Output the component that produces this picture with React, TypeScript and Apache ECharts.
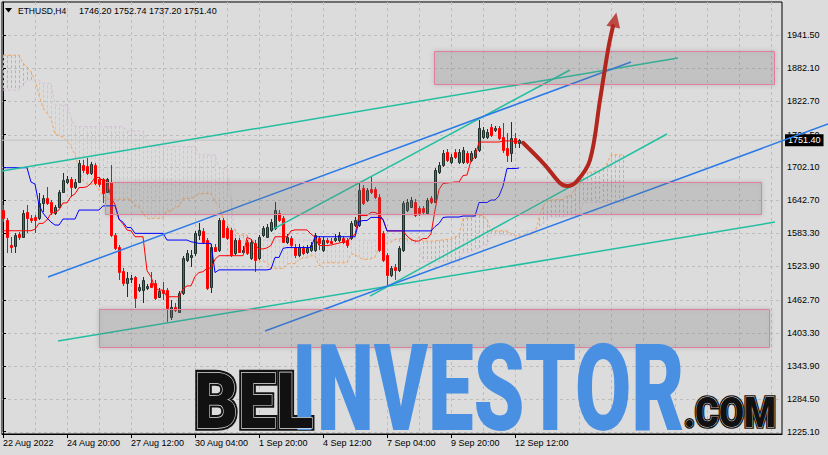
import React, { useEffect, useRef } from "react";
import * as echarts from "echarts";

// ---------- text ----------
const symbolLabel = "ETHUSD,H4";
const ohlcLabel = "1746.20 1752.74 1737.20 1751.40";
const lastPrice = 1751.4;

// ---------- axes ----------
const xTickBars = [0, 16, 32, 48, 64, 80, 96, 112, 128];
const xTickLabels = [
  "22 Aug 2022", "24 Aug 20:00", "27 Aug 12:00", "30 Aug 04:00", "1 Sep 20:00",
  "4 Sep 12:00", "7 Sep 04:00", "9 Sep 20:00", "12 Sep 12:00",
];
const gridBars = [0, 8, 16, 24, 32, 40, 48, 56, 64, 72, 80, 88, 96, 104, 112, 120, 128, 136, 144, 152, 160, 168, 176, 184, 192];
const yTickValues = [1225.1, 1284.5, 1343.9, 1403.3, 1462.7, 1523.9, 1583.3, 1642.7, 1702.1, 1761.5, 1822.7, 1882.1, 1941.5];

// ---------- H4 candles (bar 0 = 22 Aug 04:00) ----------
const opens = [
  1625.2, 1607.2, 1562.0, 1560.2, 1581.3, 1577.0, 1622.2, 1611.3, 1613.1, 1610.2,
  1637.3, 1646.4, 1640.2, 1620.4, 1631.2, 1658.3, 1676.4, 1680.7, 1667.3, 1676.4,
  1706.5, 1704.7, 1691.5, 1706.5, 1680.7, 1680.7, 1658.3, 1676.4, 1580.1, 1558.9,
  1515.0, 1492.8, 1500.0, 1504.7, 1480.7, 1480.7, 1483.7, 1493.9, 1493.9, 1468.6,
  1480.7, 1480.7, 1432.4, 1450.5, 1441.5, 1474.7, 1534.9, 1540.9, 1547.0, 1580.1,
  1587.8, 1571.0, 1486.6, 1558.9, 1553.0, 1607.2, 1592.2, 1589.1, 1547.0, 1571.0,
  1549.9, 1568.0, 1538.0, 1565.1, 1538.0, 1580.1, 1577.0, 1589.1, 1592.2, 1619.3,
  1610.2, 1568.0, 1574.1, 1558.9, 1543.9, 1556.0, 1549.9, 1553.0, 1553.0, 1574.1,
  1553.0, 1571.0, 1569.5, 1571.0, 1571.0, 1574.1, 1571.0, 1574.1, 1598.1, 1598.1,
  1664.4, 1643.3, 1662.6, 1662.6, 1649.3, 1583.1, 1543.9, 1507.8, 1522.8, 1516.8,
  1553.0, 1625.2, 1631.2, 1640.2, 1628.3, 1628.3, 1619.3, 1646.4, 1640.2, 1694.4,
  1706.5, 1730.6, 1712.5, 1730.6, 1712.5, 1712.5, 1727.7, 1715.6, 1721.5, 1733.7,
  1757.7, 1757.7, 1775.8, 1769.8, 1772.9, 1757.7, 1736.7, 1727.7, 1754.8, 1746.2,
];
const highs = [
  1634.3, 1610.8, 1577.0, 1583.7, 1586.0, 1625.2, 1634.3, 1616.2, 1616.2, 1655.4,
  1652.3, 1667.3, 1643.3, 1634.3, 1661.4, 1692.6, 1686.7, 1685.4, 1680.7, 1715.6,
  1715.6, 1718.6, 1712.5, 1709.6, 1684.3, 1682.5, 1683.1, 1706.5, 1583.7, 1562.0,
  1520.4, 1513.7, 1507.8, 1506.0, 1491.5, 1504.7, 1491.5, 1513.7, 1498.7, 1484.3,
  1495.7, 1484.3, 1462.6, 1457.2, 1478.9, 1542.1, 1553.0, 1553.0, 1587.3, 1601.2,
  1592.7, 1574.6, 1563.8, 1563.8, 1610.8, 1610.8, 1596.3, 1592.7, 1574.6, 1574.6,
  1560.2, 1571.0, 1572.8, 1571.0, 1580.1, 1596.3, 1599.9, 1609.0, 1640.2, 1625.2,
  1614.4, 1581.9, 1578.2, 1563.8, 1563.8, 1560.2, 1562.0, 1567.4, 1583.7, 1578.2,
  1576.4, 1574.6, 1574.6, 1581.9, 1585.5, 1578.2, 1574.6, 1605.3, 1612.6, 1674.0,
  1670.4, 1665.0, 1685.4, 1666.8, 1654.1, 1587.3, 1547.5, 1524.0, 1527.7, 1560.2,
  1641.5, 1645.1, 1648.7, 1645.1, 1632.5, 1632.5, 1646.9, 1650.5, 1701.1, 1712.0,
  1733.7, 1735.5, 1726.4, 1735.5, 1735.5, 1739.1, 1731.8, 1731.8, 1737.3, 1787.9,
  1775.2, 1771.6, 1780.6, 1777.0, 1777.0, 1781.9, 1763.8, 1784.8, 1763.8, 1752.74,
];
const lows = [
  1603.5, 1547.5, 1547.0, 1547.5, 1571.0, 1574.6, 1583.7, 1601.7, 1583.7, 1607.2,
  1622.2, 1634.3, 1616.2, 1616.2, 1628.8, 1655.4, 1672.2, 1649.3, 1662.6, 1673.5,
  1691.5, 1688.5, 1688.5, 1670.4, 1667.3, 1637.9, 1656.0, 1577.0, 1553.0, 1498.7,
  1487.9, 1468.6, 1492.8, 1447.6, 1477.1, 1456.6, 1480.7, 1483.7, 1462.6, 1466.2,
  1462.6, 1423.4, 1426.5, 1440.9, 1439.1, 1471.6, 1531.3, 1522.8, 1542.1, 1571.0,
  1563.8, 1480.7, 1474.7, 1549.3, 1549.3, 1574.6, 1571.0, 1540.3, 1543.9, 1547.5,
  1545.7, 1543.9, 1534.9, 1513.7, 1534.9, 1576.4, 1574.6, 1585.5, 1589.1, 1603.5,
  1565.6, 1563.8, 1558.4, 1538.5, 1540.3, 1543.9, 1545.7, 1549.3, 1549.3, 1553.0,
  1549.3, 1563.8, 1563.8, 1567.4, 1567.4, 1563.8, 1556.6, 1571.0, 1594.5, 1594.5,
  1634.3, 1639.7, 1654.1, 1645.1, 1549.3, 1531.3, 1489.7, 1504.2, 1498.7, 1513.2,
  1549.3, 1621.6, 1628.8, 1612.6, 1614.4, 1618.0, 1616.2, 1636.1, 1637.9, 1690.3,
  1702.9, 1712.0, 1708.3, 1717.4, 1708.3, 1708.3, 1708.3, 1712.0, 1717.4, 1730.0,
  1753.5, 1753.5, 1757.1, 1766.2, 1751.7, 1727.7, 1712.5, 1712.5, 1737.3, 1737.2,
];
const closes = [
  1610.8, 1577.0, 1558.9, 1580.1, 1577.0, 1619.3, 1610.2, 1607.2, 1607.2, 1637.3,
  1646.4, 1637.3, 1622.2, 1631.2, 1658.3, 1679.4, 1680.7, 1667.3, 1676.4, 1709.6,
  1697.5, 1692.6, 1708.3, 1673.5, 1672.2, 1656.0, 1680.7, 1580.1, 1556.0, 1513.7,
  1492.8, 1501.8, 1502.9, 1465.7, 1486.6, 1498.7, 1487.9, 1486.6, 1465.7, 1479.4,
  1474.7, 1447.6, 1450.5, 1444.5, 1474.7, 1538.0, 1547.0, 1543.9, 1583.1, 1589.1,
  1568.0, 1483.7, 1558.9, 1551.7, 1607.2, 1577.0, 1574.1, 1543.9, 1571.0, 1549.9,
  1553.0, 1547.0, 1568.0, 1534.9, 1577.0, 1592.2, 1595.0, 1604.1, 1625.2, 1607.2,
  1568.0, 1577.0, 1562.0, 1543.9, 1558.9, 1547.0, 1556.0, 1562.0, 1580.1, 1565.1,
  1571.0, 1568.0, 1566.0, 1575.2, 1580.1, 1568.0, 1562.0, 1601.2, 1607.2, 1661.4,
  1637.3, 1661.4, 1658.3, 1649.3, 1553.0, 1534.9, 1507.8, 1519.9, 1516.8, 1556.0,
  1637.3, 1640.2, 1643.3, 1616.2, 1619.3, 1622.2, 1643.3, 1640.2, 1697.5, 1706.5,
  1727.7, 1715.6, 1721.5, 1721.5, 1730.6, 1733.7, 1712.5, 1727.7, 1733.7, 1772.9,
  1769.8, 1766.7, 1760.8, 1772.9, 1754.8, 1733.7, 1724.6, 1754.8, 1745.8, 1751.4,
];

const tenkanSeed = [1587.8, 1587.8, 1587.8, 1587.8, 1587.8, 1587.8, 1587.8, 1587.8];
const kijunSeed = [
  1701.7, 1701.7, 1701.7, 1701.7, 1701.7, 1701.7, 1701.7, 1675.8, 1672.2, 1634.3,
  1619.8, 1610.8, 1603.5, 1598.1, 1598.1, 1609.0, 1609.0, 1609.0, 1609.0, 1625.2,
  1625.2, 1625.2, 1625.2, 1625.2, 1625.2,
];
const spanASeed = [
  1905, 1905, 1905, 1905, 1905, 1891, 1884, 1875, 1860, 1833, 1810, 1800, 1790,
  1762, 1760, 1757, 1750, 1740, 1725, 1700, 1678, 1672, 1672, 1672, 1661, 1650,
];
const spanBSeed = [
  1842, 1842, 1842, 1842, 1842, 1850, 1860, 1860, 1860, 1860, 1854, 1854, 1854,
  1815, 1815, 1815, 1815, 1793, 1776, 1776, 1776, 1776, 1776, 1776, 1776, 1776,
  1776, 1776, 1776, 1776, 1776, 1768, 1768, 1768, 1768, 1768, 1750, 1740, 1740,
  1740, 1740, 1740, 1740, 1740, 1740, 1740, 1740, 1740, 1740, 1725, 1725, 1725,
  1725, 1725, 1700, 1700, 1700, 1650, 1571, 1571, 1571, 1571, 1571, 1571, 1571,
  1571, 1571, 1571, 1571, 1571, 1571, 1571, 1571, 1571, 1571, 1571, 1571,
];

// ---------- drawn objects: [bar1, price1, bar2, price2] ----------
const tealLines = [
  [-0.25, 1695.7, 168.75, 1899.9],
  [67.5, 1590.9, 141.75, 1878.2],
  [91.75, 1469.8, 166, 1762.6],
  [13.75, 1388.5, 193, 1603.5],
];
const blueLines = [
  [11.25, 1504.2, 157, 1892.7],
  [65.5, 1406.6, 206.25, 1780.6],
];
const zoneBoxes = [
  [107.75, 1912.5, 192.75, 1852.9],
  [25.5, 1675.8, 189.5, 1618.0],
  [24, 1446.3, 191.5, 1377.7],
];
const arrowPath = [
  [130.0, 1746.8], [135.5, 1706.5], [139.25, 1674.0], [141.0, 1668.6], [143.5, 1677.6],
  [146.75, 1715.6], [149.25, 1824.0], [151.25, 1914.4], [152.5, 1957.7],
];
const arrowHead = [152.95, 1969];

const FONT = "'Liberation Sans', Arial, Helvetica, sans-serif";
const BG = "#dcdcdc";
const GRID_COLOR = "#bdbdbd";
const SPAN_A_COLOR = "#f4a460";
const SPAN_B_COLOR = "#d8bfd8";
const TEAL = "#22bfa0";
const BLUE = "#2a7ae8";
const ARROW = "#b3261e";

function midRange(from: number, to: number) {
  let hi = -Infinity;
  let lo = Infinity;
  for (let i = from; i <= to; i++) {
    if (highs[i] > hi) hi = highs[i];
    if (lows[i] < lo) lo = lows[i];
  }
  return (hi + lo) / 2;
}

const wmText = (text: string, x: number, y: number, size: number, sx: number, sy: number, style: any, z: number) => ({
  type: "text",
  z,
  silent: true,
  x,
  y,
  scaleX: sx,
  scaleY: sy,
  style: {
    text,
    fontFamily: "Roboto",
    fontWeight: 900,
    fontSize: size,
    align: "left",
    verticalAlign: "middle",
    textAlign: "left",
    textVerticalAlign: "middle",
    ...style,
  },
});

export default function App() {
  const ref = useRef<HTMLDivElement>(null);

  useEffect(() => {
    const el = ref.current;
    if (!el) return;
    const chart = echarts.init(el, null, { renderer: "svg" });

    const n = opens.length;
    const tenkan: number[] = [];
    const kijun: number[] = [];
    for (let k = 0; k < n; k++) {
      tenkan.push(k < tenkanSeed.length ? tenkanSeed[k] : midRange(k - 8, k));
      kijun.push(k < kijunSeed.length ? kijunSeed[k] : midRange(k - 25, k));
    }
    const spanA: number[] = [];
    const spanB: number[] = [];
    for (let k = 0; k < n + 26; k++) {
      spanA.push(k < spanASeed.length ? spanASeed[k] : (tenkan[k - 26] + kijun[k - 26]) / 2);
      spanB.push(k < spanBSeed.length ? spanBSeed[k] : midRange(k - 77, k - 26));
    }

    const candleData = opens.map((o, i) => [i, o, closes[i], lows[i], highs[i]]);
    const cloudData = spanA.map((a, k) => [k, a, spanB[k]]);

    const lineSeg = (color: string, width: number) => (params: any, api: any) => {
      const p1 = api.coord([api.value(0), api.value(1)]);
      const p2 = api.coord([api.value(2), api.value(3)]);
      return {
        type: "line",
        shape: { x1: p1[0], y1: p1[1], x2: p2[0], y2: p2[1] },
        style: { stroke: color, lineWidth: width },
      };
    };

    const option: any = {
      animation: false,
      backgroundColor: BG,
      grid: {
        left: 2, right: 46, top: 2, bottom: 21,
        show: true, borderColor: "#000", borderWidth: 1, backgroundColor: "transparent",
      },
      xAxis: {
        type: "value",
        min: -0.25,
        max: 194.75,
        axisLine: { show: true, onZero: false, lineStyle: { color: "#000", width: 1 } },
        axisTick: { show: true, length: 4, customValues: xTickBars, lineStyle: { color: "#000" } },
        axisLabel: {
          customValues: xTickBars,
          formatter: (v: number) => {
            const i = xTickBars.indexOf(Math.round(v));
            return i >= 0 ? xTickLabels[i] : "";
          },
          align: "left",
          margin: 4,
          color: "#000",
          fontFamily: FONT,
          fontSize: 9,
        },
        splitLine: { show: false },
      },
      yAxis: {
        type: "value",
        position: "right",
        min: 1220.6,
        max: 2001.1,
        axisLine: { show: true, lineStyle: { color: "#000", width: 1 } },
        axisTick: { show: true, length: 3, customValues: yTickValues, lineStyle: { color: "#000" } },
        axisLabel: {
          customValues: yTickValues,
          formatter: (v: number) => v.toFixed(2),
          margin: 5,
          color: "#000",
          fontFamily: FONT,
          fontSize: 9,
        },
        splitLine: { show: false },
      },
      series: [
        {
          type: "custom",
          name: "vgrid",
          z: 0,
          silent: true,
          data: gridBars.map((k) => [k, yTickValues[0]]),
          encode: { x: 0, y: 1 },
          renderItem: (params: any, api: any) => {
            const p = api.coord([api.value(0), api.value(1)]);
            const cs = params.coordSys;
            const x = Math.round(p[0]) + 0.5;
            return {
              type: "line",
              shape: { x1: x, y1: cs.y, x2: x, y2: cs.y + cs.height },
              style: { stroke: GRID_COLOR, lineWidth: 1, lineDash: [3, 3] },
            };
          },
        },
        {
          type: "custom",
          name: "hgrid",
          z: 0,
          silent: true,
          data: yTickValues.map((v) => [0, v]),
          encode: { x: 0, y: 1 },
          renderItem: (params: any, api: any) => {
            const p = api.coord([api.value(0), api.value(1)]);
            const cs = params.coordSys;
            const y = Math.round(p[1]) + 0.5;
            return {
              type: "line",
              shape: { x1: cs.x, y1: y, x2: cs.x + cs.width, y2: y },
              style: { stroke: GRID_COLOR, lineWidth: 1, lineDash: [3, 3] },
            };
          },
        },
        {
          type: "custom",
          name: "cloud",
          z: 1,
          silent: true,
          data: cloudData,
          encode: { x: 0, y: [1, 2] },
          renderItem: (params: any, api: any) => {
            const k = api.value(0);
            const a = api.value(1);
            const b = api.value(2);
            const pa = api.coord([k, a]);
            const pb = api.coord([k, b]);
            const x = Math.round(pa[0]) + 0.5;
            return {
              type: "line",
              shape: { x1: x, y1: pa[1], x2: x, y2: pb[1] },
              style: { stroke: a >= b ? SPAN_A_COLOR : SPAN_B_COLOR, lineWidth: 1, lineDash: [3, 2] },
            };
          },
        },
        {
          type: "line",
          name: "Senkou A",
          z: 1,
          silent: true,
          data: spanA.map((v, k) => [k, v]),
          symbol: "none",
          lineStyle: { color: SPAN_A_COLOR, width: 1, type: [3, 2] },
        },
        {
          type: "line",
          name: "Senkou B",
          z: 1,
          silent: true,
          data: spanB.map((v, k) => [k, v]),
          symbol: "none",
          lineStyle: { color: SPAN_B_COLOR, width: 1, type: [3, 2] },
        },
        {
          type: "line",
          name: "bid",
          z: 1,
          silent: true,
          data: [[-0.25, lastPrice], [194.75, lastPrice]],
          symbol: "none",
          lineStyle: { color: "#c3c3c3", width: 1 },
          endLabel: {
            show: true,
            formatter: () => lastPrice.toFixed(2),
            backgroundColor: "#000",
            color: "#fff",
            fontFamily: FONT,
            fontSize: 9,
            padding: [2, 3, 1, 3],
            distance: 3,
          },
        },
        {
          type: "custom",
          name: "candles",
          z: 3,
          silent: true,
          data: candleData,
          encode: { x: 0, y: [1, 2, 3, 4] },
          renderItem: (params: any, api: any) => {
            const k = api.value(0);
            const o = api.value(1);
            const c = api.value(2);
            const l = api.value(3);
            const h = api.value(4);
            const po = api.coord([k, o]);
            const pc = api.coord([k, c]);
            const pl = api.coord([k, l]);
            const ph = api.coord([k, h]);
            const x = Math.round(po[0]) + 0.5;
            const bull = c >= o;
            const top = Math.round(Math.min(po[1], pc[1])) + 0.5;
            const bot = Math.round(Math.max(po[1], pc[1])) + 0.5;
            const wick = bull ? "#1f302b" : "#ff0000";
            return {
              type: "group",
              children: [
                {
                  type: "line",
                  shape: { x1: x, y1: Math.round(ph[1]), x2: x, y2: Math.round(pl[1]) },
                  style: { stroke: wick, lineWidth: 1 },
                },
                {
                  type: "rect",
                  shape: { x: x - 1, y: top, width: 2, height: Math.max(bot - top, 0.5) },
                  style: {
                    fill: bull ? "#3d7562" : "#ff0000",
                    stroke: bull ? "#1f302b" : "#ff0000",
                    lineWidth: 1,
                  },
                },
              ],
            };
          },
        },
        {
          type: "line",
          name: "Tenkan",
          z: 4,
          silent: true,
          data: tenkan.map((v, k) => [k, v]),
          symbol: "none",
          lineStyle: { color: "#ff0000", width: 1 },
        },
        {
          type: "line",
          name: "Kijun",
          z: 4,
          silent: true,
          data: kijun.map((v, k) => [k, v]),
          symbol: "none",
          lineStyle: { color: "#0000ff", width: 1 },
        },
        {
          type: "custom",
          name: "teal",
          z: 5,
          silent: true,
          data: tealLines,
          encode: { x: [0, 2], y: [1, 3] },
          renderItem: lineSeg(TEAL, 1.5),
        },
        {
          type: "custom",
          name: "blue",
          z: 5,
          silent: true,
          data: blueLines,
          encode: { x: [0, 2], y: [1, 3] },
          renderItem: lineSeg(BLUE, 1.5),
        },
        {
          type: "custom",
          name: "zones",
          z: 6,
          silent: true,
          data: zoneBoxes,
          encode: { x: [0, 2], y: [1, 3] },
          renderItem: (params: any, api: any) => {
            const p1 = api.coord([api.value(0), api.value(1)]);
            const p2 = api.coord([api.value(2), api.value(3)]);
            const x = Math.round(Math.min(p1[0], p2[0])) + 0.5;
            const y = Math.round(Math.min(p1[1], p2[1])) + 0.5;
            const w = Math.round(Math.abs(p2[0] - p1[0]));
            const hgt = Math.round(Math.abs(p2[1] - p1[1]));
            return {
              type: "rect",
              shape: { x, y, width: w, height: hgt },
              style: {
                fill: "rgba(128,128,128,0.2)",
                stroke: "#e0809c",
                lineWidth: 1,
                shadowBlur: 4,
                shadowColor: "rgba(0,0,0,0.3)",
              },
            };
          },
        },
        {
          type: "line",
          name: "arrow",
          z: 8,
          silent: true,
          data: arrowPath,
          smooth: 0.35,
          symbol: "none",
          clip: false,
          lineStyle: { color: ARROW, width: 4, cap: "round" },
        },
        {
          type: "scatter",
          name: "arrowHead",
          z: 8,
          silent: true,
          data: [arrowHead],
          symbol: "triangle",
          symbolSize: [14, 15],
          symbolRotate: -12,
          itemStyle: { color: ARROW },
        },
      ],
      graphic: [
        {
          type: "polygon",
          z: 50,
          silent: true,
          shape: { points: [[5, 8], [12, 8], [8.5, 12.5]] },
          style: { fill: "#000" },
        },
        {
          type: "text",
          z: 50,
          silent: true,
          x: 18,
          y: 11,
          style: {
            text: symbolLabel, fill: "#000", fontFamily: FONT, fontSize: 8.5,
            align: "left", verticalAlign: "middle", textAlign: "left", textVerticalAlign: "middle",
          },
        },
        {
          type: "text",
          z: 50,
          silent: true,
          x: 79,
          y: 11,
          style: {
            text: ohlcLabel, fill: "#000", fontFamily: FONT, fontSize: 9,
            align: "left", verticalAlign: "middle", textAlign: "left", textVerticalAlign: "middle",
          },
        },
        // watermark
        wmText("BEL", 194, 401, 56, 1.22, 1.4, { fill: "#111", stroke: "#111", lineWidth: 4 }, 60),
        wmText("BEL", 194, 401, 56, 1.22, 1.4, { fill: "#111", stroke: "#e4e4e4", lineWidth: 0.9 }, 61),
        wmText("INVESTOR", 292, 389, 80, 1.02, 1.5, {
          fill: "#4a90e2",
          shadowColor: "rgba(0,0,0,0.35)", shadowBlur: 4, shadowOffsetX: 2, shadowOffsetY: 2,
        }, 60),
        wmText(".COM", 684, 412, 34, 1.07, 1.25, { fill: "#111", stroke: "#111", lineWidth: 3 }, 60),
        wmText(".COM", 684, 412, 34, 1.07, 1.25, { fill: "#111", stroke: "#e4e4e4", lineWidth: 0.7 }, 61),
      ],
    };

    chart.setOption(option);
    return () => chart.dispose();
  }, []);

  return (
    <div
      ref={ref}
      style={{ position: "absolute", left: 0, top: 0, width: 828, height: 455, background: BG }}
    />
  );
}
